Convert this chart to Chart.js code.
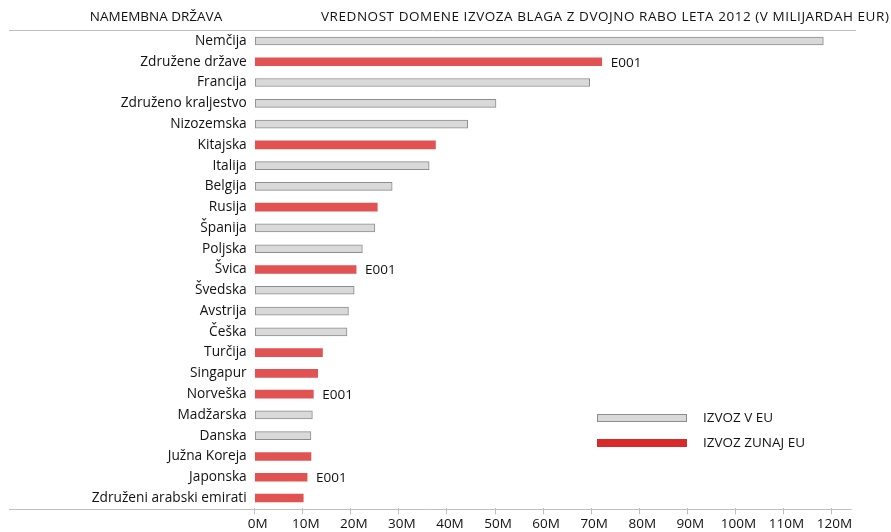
<!DOCTYPE html>
<html>
<head>
<meta charset="utf-8">
<script src="https://cdn.jsdelivr.net/npm/chart.js@4.4.0/dist/chart.umd.min.js"></script>
<style>
  body { margin: 0; background: #fff; }
  canvas { display: block; }
</style>
</head>
<body>
<canvas id="bar" width="891" height="532"></canvas>
<script>
// podatki (milijarde EUR, odčitano s slike)
const countries = ['Nemčija', 'Združene države', 'Francija', 'Združeno kraljestvo', 'Nizozemska',
  'Kitajska', 'Italija', 'Belgija', 'Rusija', 'Španija', 'Poljska', 'Švica', 'Švedska',
  'Avstrija', 'Češka', 'Turčija', 'Singapur', 'Norveška', 'Madžarska', 'Danska',
  'Južna Koreja', 'Japonska', 'Združeni arabski emirati'];
const values = [118.3, 72.2, 69.7, 50.2, 44.3, 37.6, 36.3, 28.6, 25.5, 25.0, 22.4, 21.1, 20.7,
  19.5, 19.2, 14.1, 13.1, 12.2, 12.0, 11.7, 11.7, 10.9, 10.1];
const euCountries = ['Nemčija', 'Francija', 'Združeno kraljestvo', 'Nizozemska', 'Italija', 'Belgija',
  'Španija', 'Poljska', 'Švedska', 'Avstrija', 'Češka', 'Madžarska', 'Danska'];
const e001 = ['Združene države', 'Švica', 'Norveška', 'Japonska'];
const xTicks = [0, 10, 20, 30, 40, 50, 60, 70, 80, 90, 100, 110, 120];
const seriesNames = ['IZVOZ V EU', 'IZVOZ ZUNAJ EU'];
const headLeft = 'NAMEMBNA DRŽAVA';
const headRight = 'VREDNOST DOMENE IZVOZA BLAGA Z DVOJNO RABO LETA 2012 (V MILIJARDAH EUR)';

const FONT = '"Open Sans", sans-serif';
const inEU = countries.map((c, i) => euCountries.includes(c) ? values[i] : null);
const outEU = countries.map((c, i) => euCountries.includes(c) ? null : values[i]);

const extras = {
  id: 'extras',
  afterDraw(chart) {
    const c = chart.ctx;
    const xs = chart.scales.x, ys = chart.scales.y;
    c.save();
    // linije zgoraj in spodaj
    c.strokeStyle = '#bfbfbf';
    c.lineWidth = 1;
    c.beginPath();
    c.moveTo(9, 30.5); c.lineTo(856, 30.5);
    c.moveTo(9, 509.5); c.lineTo(xs.right, 509.5);
    c.stroke();

    c.fillStyle = '#111';
    c.font = '13.5px ' + FONT;
    c.textBaseline = 'middle';
    c.textAlign = 'center';
    c.fillText(headLeft, 156, 17);
    c.textAlign = 'left';
    c.letterSpacing = '0.55px';
    c.fillText(headRight, 321, 17);
    c.letterSpacing = '0px';

    // E001 oznake
    c.font = '13.5px ' + FONT;
    countries.forEach((name, i) => {
      if (!e001.includes(name)) return;
      c.fillText('E001', xs.getPixelForValue(values[i]) + 9, ys.getPixelForValue(i) + 1);
    });

    // legenda
    const lg = [
      { fill: '#d9d9d9', stroke: '#8c8c8c', y: 418 },
      { fill: '#d92a2a', stroke: null, y: 443 }
    ];
    lg.forEach((it, i) => {
      c.fillStyle = it.fill;
      c.fillRect(597, it.y - 4, 90, 8);
      if (it.stroke) {
        c.strokeStyle = it.stroke;
        c.strokeRect(597.5, it.y - 3.5, 89, 7);
      }
      c.fillStyle = '#111';
      c.fillText(seriesNames[i], 703, it.y);
    });
    c.restore();
  }
};

const ctx = document.getElementById('bar');
new Chart(ctx, {
  type: 'bar',
  data: {
    labels: countries,
    datasets: [{
      label: seriesNames[0],
      data: inEU,
      backgroundColor: '#d9d9d9',
      borderColor: '#8c8c8c',
      borderWidth: 1,
      borderSkipped: false,
      barThickness: 8
    },
    {
      label: seriesNames[1],
      data: outEU,
      backgroundColor: '#e15252',
      borderWidth: 0,
      barThickness: 8
    }]
  },
  options: {
    indexAxis: 'y',
    responsive: false,
    animation: false,
    layout: { padding: { top: 30.6, right: 39.3, left: 0, bottom: 0 } },
    plugins: {
      legend: { display: false },
      tooltip: { enabled: false }
    },
    scales: {
      x: {
        stacked: true,
        min: 0,
        max: 124.2,
        afterBuildTicks: (s) => { s.ticks = xTicks.map(v => ({ value: v })); },
        afterFit: (s) => { s.height = 23.6; },
        border: { display: false },
        grid: { drawOnChartArea: false, drawTicks: true, tickLength: 6, color: '#bfbfbf' },
        ticks: {
          padding: 2,
          labelOffset: 3,
          maxRotation: 0,
          autoSkip: false,
          color: '#111',
          font: { family: FONT, size: 13.5 },
          callback: (v) => v + 'M'
        }
      },
      y: {
        stacked: true,
        afterFit: (s) => { s.width = 254.7; },
        border: { display: false },
        grid: { display: false },
        ticks: {
          padding: 0,
          autoSkip: false,
          color: '#111',
          font: { family: FONT, size: 13.7 }
        }
      }
    }
  },
  plugins: [extras]
});
</script>
</body>
</html>
